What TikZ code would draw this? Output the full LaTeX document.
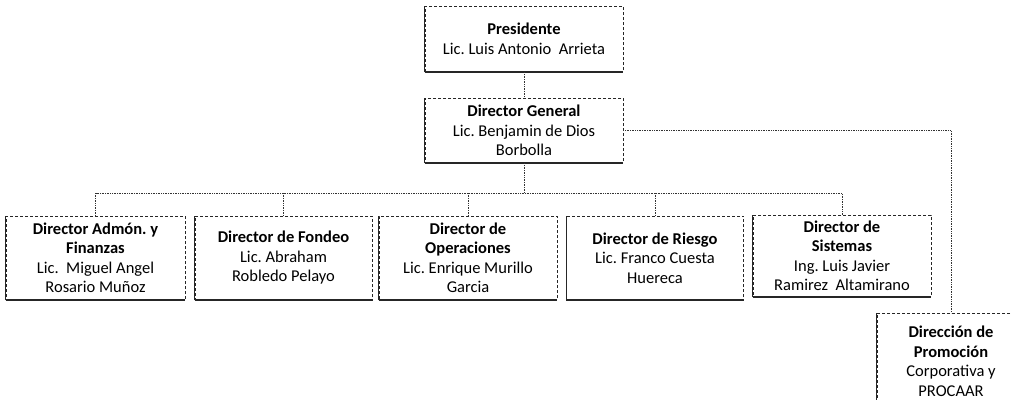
\documentclass[tikz,border=0pt]{standalone}
\usepackage{fontspec}
\setmainfont{Carlito}
\frenchspacing
\begin{document}
\begin{tikzpicture}[x=1pt,y=-1pt,
  orgbox/.style={draw=black!85, densely dashed, line width=0.5pt, align=center, inner sep=1pt,
    font=\fontsize{16.5}{19.5}\selectfont, text=black},
  conn/.style={draw=black!80, densely dotted, line width=0.7pt},
  heavy/.style={draw=black!85, line width=1.6pt}]
\useasboundingbox (0,0) rectangle (1011,399);
\fill[white] (0,0) rectangle (1011,399);
\begin{scope}
\clip (0,0) rectangle (1011,399);
\node[orgbox, minimum width=198pt, minimum height=66pt] (pres) at (524,39)
  {\textbf{Presidente}\\Lic. Luis Antonio\ \ Arrieta};
\node[orgbox, minimum width=198pt, minimum height=65pt] (dg) at (524,130.5)
  {\textbf{Director General}\\Lic. Benjamin de Dios\\Borbolla};
\node[orgbox, minimum width=179pt, minimum height=84pt] (b1) at (95.5,258)
  {\textbf{Director Admón. y}\\\textbf{Finanzas}\\Lic.\ \ Miguel Angel\\Rosario Muñoz};
\node[orgbox, minimum width=177pt, minimum height=84pt] (b2) at (283.5,258)
  {\textbf{Director de Fondeo}\\Lic. Abraham\\Robledo Pelayo};
\node[orgbox, minimum width=178pt, minimum height=84pt] (b3) at (468,258)
  {\textbf{Director de}\\\textbf{Operaciones}\\Lic. Enrique Murillo\\Garcia};
\node[orgbox, minimum width=177pt, minimum height=84pt] (b4) at (655,258)
  {\textbf{Director de Riesgo}\\Lic. Franco Cuesta\\Huereca};
\node[orgbox, minimum width=178pt, minimum height=82pt] (b5) at (842,256)
  {\textbf{Director de}\\\textbf{Sistemas}\\Ing. Luis Javier\\Ramirez\ \ Altamirano};
\node[orgbox, minimum width=148pt, minimum height=97pt] (dir) at (951,361.5)
  {\textbf{Dirección de}\\\textbf{Promoción}\\Corporativa y\\PROCAAR};
\foreach \n in {pres,dg,b1,b2,b3,b4,b5,dir}{
  \draw[heavy] (\n.south west) -- (\n.south east);
  \draw[draw=black!85, line width=1.2pt] (\n.south west) -- (\n.north west);
}
\coordinate (bus) at (524,193);
\draw[conn] (pres.south) -- (dg.north);
\draw[conn] (dg.south) -- (bus);
\draw[conn] (b1.north) |- (bus) -| (b5.north);
\draw[conn] (b2.north) -- (b2.north |- bus);
\draw[conn] (b3.north) -- (b3.north |- bus);
\draw[conn] (b4.north) -- (b4.north |- bus);
\draw[conn] (dg.east) -| (dir.north);
\end{scope}
\end{tikzpicture}
\end{document}
